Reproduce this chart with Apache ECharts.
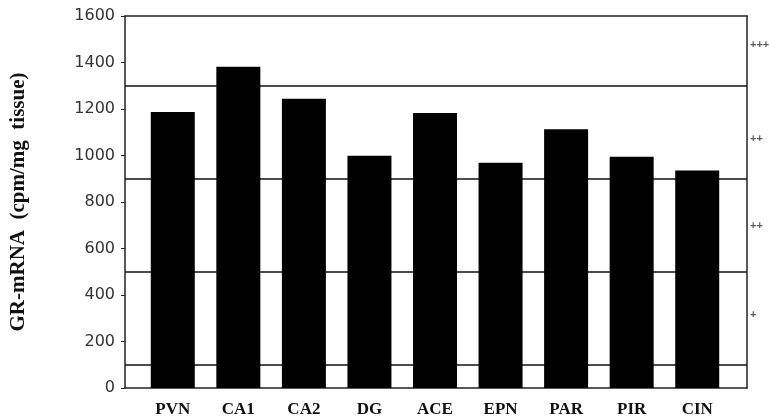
<!DOCTYPE html>
<html>
<head>
<meta charset="utf-8">
<script src="https://cdn.jsdelivr.net/npm/echarts@6/dist/echarts.min.js"></script>
<style>html,body{margin:0;padding:0;background:#fff;}#c{width:769px;height:418px;}</style>
</head>
<body>
<div id="c"></div>
<script>
var categories = ['PVN', 'CA1', 'CA2', 'DG', 'ACE', 'EPN', 'PAR', 'PIR', 'CIN'];
var values = [1187, 1382, 1244, 999, 1183, 969, 1113, 995, 936];
var refLines = [100, 500, 900, 1300];
var markerLabels = ['+', '++', '++', '+++'];
var markerValues = [314, 697, 1071, 1475];
var yMin = 0, yMax = 1600, yStep = 200;

var chart = echarts.init(document.getElementById('c'), null, {renderer: 'canvas'});
var axisCol = '#222';
chart.setOption({
  backgroundColor: '#fff',
  animation: false,
  grid: [
    {left: 125, right: 22, top: 16, bottom: 30},
    {left: 140, right: 39, top: 16, bottom: 30}
  ],
  xAxis: [
    {gridIndex: 0, type: 'value', min: 0, max: 1, position: 'bottom',
     axisLine: {show: true, onZero: false, lineStyle: {color: axisCol, width: 1.5}},
     axisTick: {show: false}, axisLabel: {show: false}, splitLine: {show: false}},
    {gridIndex: 0, type: 'value', min: 0, max: 1, position: 'top',
     axisLine: {show: true, onZero: false, lineStyle: {color: axisCol, width: 1.5}},
     axisTick: {show: false}, axisLabel: {show: false}, splitLine: {show: false}},
    {gridIndex: 1, type: 'category', data: categories, boundaryGap: true,
     axisLine: {show: false}, axisTick: {show: false}, splitLine: {show: false},
     axisLabel: {margin: 13, color: '#111', fontFamily: 'Liberation Serif', fontWeight: 'bold', fontSize: 17}}
  ],
  yAxis: [
    {gridIndex: 0, type: 'value', min: yMin, max: yMax, interval: yStep,
     name: 'GR-mRNA  (cpm/mg  tissue)', nameLocation: 'middle', nameGap: 96,
     nameTextStyle: {fontFamily: 'Liberation Serif', fontWeight: 'bold', fontSize: 21, color: '#111'},
     axisLine: {show: true, onZero: false, lineStyle: {color: axisCol, width: 1.5}},
     axisTick: {show: true, inside: false, length: 4, lineStyle: {color: axisCol}},
     axisLabel: {margin: 10, color: '#333', fontFamily: 'DejaVu Sans', fontSize: 16,
       formatter: function (v) { return String(v); }},
     splitLine: {show: false}},
    {gridIndex: 0, type: 'value', min: yMin, max: yMax, position: 'right',
     axisLine: {show: true, onZero: false, lineStyle: {color: axisCol, width: 1.5}},
     axisTick: {show: false}, axisLabel: {show: false}, splitLine: {show: false}},
    {gridIndex: 1, type: 'value', min: yMin, max: yMax, show: false}
  ],
  series: [
    {
      type: 'scatter', xAxisIndex: 0, yAxisIndex: 0, z: 1,
      symbolSize: 0, silent: true,
      data: markerValues.map(function (v) { return [1, v]; }),
      label: {show: true, position: 'right', distance: 3, fontSize: 11, fontFamily: 'Liberation Sans', fontWeight: 'bold', color: '#333',
        formatter: function (p) { return markerLabels[p.dataIndex]; }},
      markLine: {
        silent: true, symbol: ['none', 'none'], animation: false,
        label: {show: false},
        lineStyle: {type: 'solid', color: '#111', width: 1.5},
        data: refLines.map(function (v) { return {yAxis: v}; })
      }
    },
    {
      type: 'bar', xAxisIndex: 2, yAxisIndex: 2, z: 5,
      data: values, barWidth: 44,
      itemStyle: {color: '#000'}
    }
  ]
});
</script>
</body>
</html>
